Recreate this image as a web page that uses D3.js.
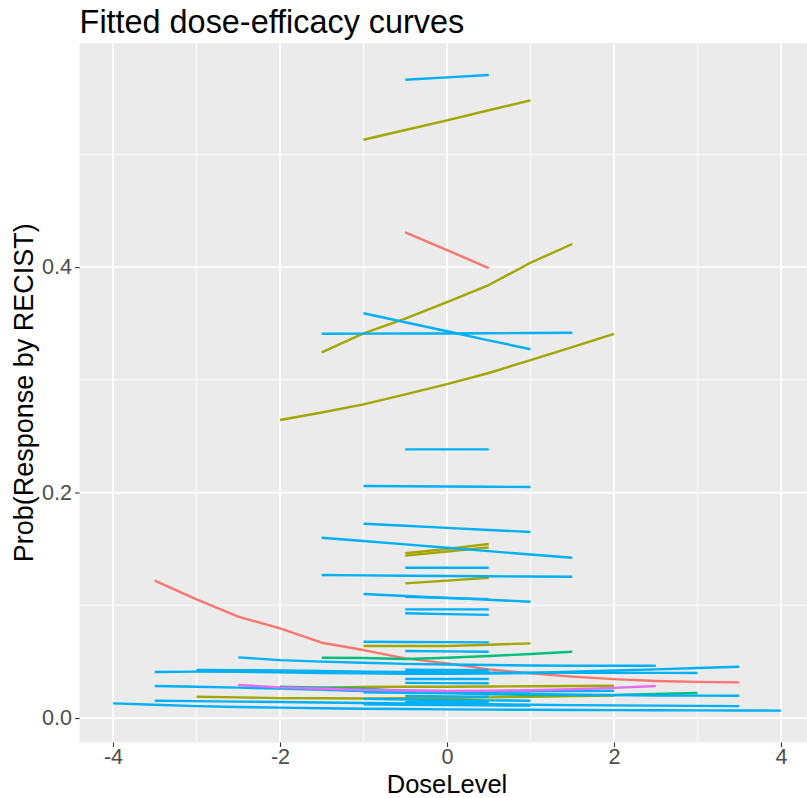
<!DOCTYPE html>
<html>
<head>
<meta charset="utf-8">
<script src="https://cdn.jsdelivr.net/npm/d3@7"></script>
<style>
  body { margin: 0; background: #ffffff; }
  svg { display: block; font-family: "Liberation Sans", Arial, sans-serif; }
</style>
</head>
<body>
<svg id="chart" width="807" height="798"></svg>
<script>
// ---- labels and axes ----
const chartTitle = "Fitted dose-efficacy curves";
const xTitle = "DoseLevel";
const yTitle = "Prob(Response by RECIST)";
const xMajor = [-4, -2, 0, 2, 4];
const xMinor = [-3, -1, 1, 3];
const yMajor = [0.0, 0.2, 0.4];
const yMinor = [0.1, 0.3, 0.5];
const xDomain = [-4.4, 4.4];
const yDomain = [-0.0216, 0.5985];

// ggplot hue palette, one colour per arm
const armColors = ["#F8766D", "#A3A500", "#00BF7D", "#00B0F6", "#E76BF3"];
const doseStep = 0.5;

// each curve: [first dose level, fitted probabilities every half dose level]
const arm1 = [
  [-0.5, [0.4308, 0.4150, 0.3991]],
  [-3.5, [0.1218, 0.1053, 0.0899, 0.0795, 0.0668, 0.0603, 0.0529, 0.0485, 0.0432, 0.0396, 0.0367, 0.0345, 0.0329, 0.0321, 0.0316]]
];
const arm2 = [
  [-1.0, [0.5129, 0.5215, 0.5300, 0.5390, 0.5478]],
  [-1.5, [0.3243, 0.3412, 0.3543, 0.3688, 0.3840, 0.4038, 0.4204]],
  [-2.0, [0.2643, 0.2710, 0.2782, 0.2870, 0.2962, 0.3060, 0.3175, 0.3290, 0.3408]],
  [-0.5, [0.1461, 0.1500, 0.1543]],
  [-0.5, [0.1440, 0.1477, 0.1514]],
  [-0.5, [0.1194, 0.1219, 0.1244]],
  [-1.0, [0.0639, 0.0639, 0.0639, 0.0650, 0.0662]],
  [-2.0, [0.0269, 0.0270, 0.0275, 0.0278, 0.0278, 0.0280, 0.0282, 0.0284, 0.0286]],
  [-3.0, [0.0189, 0.0183, 0.0177, 0.0175, 0.0174, 0.0175, 0.0178, 0.0183, 0.0189, 0.0194, 0.0200]]
];
const arm3 = [
  [-1.5, [0.0535, 0.0532, 0.0523, 0.0535, 0.0550, 0.0568, 0.0588]],
  [-0.5, [0.0405, 0.0405, 0.0405]],
  [-2.0, [0.0278, 0.0270, 0.0260, 0.0240, 0.0225, 0.0210, 0.0205, 0.0205, 0.0205, 0.0213, 0.0222]]
];
const arm4 = [
  [-0.5, [0.5661, 0.5682, 0.5703]],
  [-1.0, [0.3590, 0.3510, 0.3430, 0.3350, 0.3271]],
  [-1.5, [0.3408, 0.3409, 0.3410, 0.3411, 0.3413, 0.3415, 0.3417]],
  [-0.5, [0.2383, 0.2383, 0.2383]],
  [-1.0, [0.2058, 0.2056, 0.2053, 0.2051, 0.2049]],
  [-1.0, [0.1723, 0.1705, 0.1687, 0.1668, 0.1650]],
  [-1.5, [0.1599, 0.1570, 0.1540, 0.1510, 0.1480, 0.1451, 0.1422]],
  [-0.5, [0.1333, 0.1333, 0.1333]],
  [-1.5, [0.1268, 0.1265, 0.1262, 0.1260, 0.1258, 0.1255, 0.1253]],
  [-1.0, [0.1100, 0.1083, 0.1066, 0.1049, 0.1032]],
  [-0.5, [0.1075, 0.1065, 0.1055]],
  [-0.5, [0.0964, 0.0964, 0.0964]],
  [-0.5, [0.0929, 0.0922, 0.0915]],
  [-1.0, [0.0677, 0.0675, 0.0673, 0.0671]],
  [-0.5, [0.0594, 0.0591, 0.0588]],
  [-2.5, [0.0538, 0.0514, 0.0500, 0.0490, 0.0480, 0.0475, 0.0470, 0.0466, 0.0464, 0.0464, 0.0464]],
  [-3.5, [0.0408, 0.0412, 0.0410, 0.0405, 0.0400, 0.0396, 0.0393, 0.0392, 0.0395, 0.0400, 0.0410, 0.0422, 0.0432, 0.0444, 0.0455]],
  [-3.0, [0.0426, 0.0425, 0.0422, 0.0418, 0.0412, 0.0408, 0.0405, 0.0403, 0.0402, 0.0402, 0.0402, 0.0401, 0.0400]],
  [-0.5, [0.0428, 0.0426, 0.0424]],
  [-0.5, [0.0346, 0.0346, 0.0346]],
  [-0.5, [0.0312, 0.0310, 0.0308]],
  [-3.5, [0.0284, 0.0278, 0.0270, 0.0262, 0.0250, 0.0240, 0.0232, 0.0225, 0.0218, 0.0212, 0.0207, 0.0203, 0.0200, 0.0199, 0.0198]],
  [-2.0, [0.0272, 0.0262, 0.0252, 0.0243, 0.0237, 0.0236, 0.0237, 0.0239, 0.0242]],
  [-1.0, [0.0228, 0.0224, 0.0220, 0.0218, 0.0216]],
  [-0.5, [0.0195, 0.0192, 0.0190]],
  [-1.0, [0.0170, 0.0165, 0.0160, 0.0157, 0.0154]],
  [-0.5, [0.0140, 0.0140, 0.0140]],
  [-1.0, [0.0122, 0.0118, 0.0115, 0.0112, 0.0110]],
  [-3.5, [0.0153, 0.0150, 0.0146, 0.0142, 0.0138, 0.0134, 0.0130, 0.0126, 0.0122, 0.0118, 0.0115, 0.0112, 0.0110, 0.0108, 0.0106]],
  [-4.0, [0.0130, 0.0118, 0.0106, 0.0098, 0.0092, 0.0087, 0.0083, 0.0080, 0.0077, 0.0075, 0.0073, 0.0071, 0.0070, 0.0069, 0.0068, 0.0067, 0.0066]]
];
const arm5 = [
  [-2.5, [0.0293, 0.0272, 0.0260, 0.0250, 0.0244, 0.0240, 0.0242, 0.0246, 0.0255, 0.0268, 0.0284]]
];
const arms = [arm1, arm2, arm3, arm4, arm5];

// ---- layout ----
const svg = d3.select("#chart");
const panel = { left: 79.6, right: 814.4, top: 43.2, bottom: 742.4 };

const x = d3.scaleLinear().domain(xDomain).range([panel.left, panel.right]);
const y = d3.scaleLinear().domain(yDomain).range([panel.bottom, panel.top]);

svg.append("rect")
  .attr("width", 807).attr("height", 798).attr("fill", "#ffffff");

svg.append("defs").append("clipPath").attr("id", "panel-clip")
  .append("rect")
  .attr("x", panel.left).attr("y", panel.top)
  .attr("width", panel.right - panel.left).attr("height", panel.bottom - panel.top);

svg.append("rect")
  .attr("x", panel.left).attr("y", panel.top)
  .attr("width", panel.right - panel.left).attr("height", panel.bottom - panel.top)
  .attr("fill", "#EBEBEB");

// grid lines
const grid = svg.append("g").attr("clip-path", "url(#panel-clip)");
grid.selectAll(".xminor").data(xMinor).join("line")
  .attr("x1", d => x(d)).attr("x2", d => x(d))
  .attr("y1", panel.top).attr("y2", panel.bottom)
  .attr("stroke", "#ffffff").attr("stroke-width", 0.9);
grid.selectAll(".yminor").data(yMinor).join("line")
  .attr("y1", d => y(d)).attr("y2", d => y(d))
  .attr("x1", panel.left).attr("x2", panel.right)
  .attr("stroke", "#ffffff").attr("stroke-width", 0.9);
grid.selectAll(".xmajor").data(xMajor).join("line")
  .attr("x1", d => x(d)).attr("x2", d => x(d))
  .attr("y1", panel.top).attr("y2", panel.bottom)
  .attr("stroke", "#ffffff").attr("stroke-width", 1.7);
grid.selectAll(".ymajor").data(yMajor).join("line")
  .attr("y1", d => y(d)).attr("y2", d => y(d))
  .attr("x1", panel.left).attr("x2", panel.right)
  .attr("stroke", "#ffffff").attr("stroke-width", 1.7);

// fitted curves
const line = d3.line().x(d => x(d[0])).y(d => y(d[1]));
const curveLayer = svg.append("g").attr("clip-path", "url(#panel-clip)")
  .attr("fill", "none").attr("stroke-width", 2.4)
  .attr("stroke-linejoin", "round");

arms.forEach((arm, i) => {
  arm.forEach(([start, probs]) => {
    const pts = probs.map((p, k) => [start + k * doseStep, p]);
    curveLayer.append("path")
      .datum(pts)
      .attr("d", line)
      .attr("stroke", armColors[i]);
  });
});

// axes
const tickFont = 21.6;
const xAxis = svg.append("g")
  .attr("transform", `translate(0,${panel.bottom})`)
  .call(d3.axisBottom(x).tickValues(xMajor).tickSize(4.5).tickPadding(2.2)
    .tickFormat(d => String(d)));
const yAxis = svg.append("g")
  .attr("transform", `translate(${panel.left},0)`)
  .call(d3.axisLeft(y).tickValues(yMajor).tickSize(4.5).tickPadding(3)
    .tickFormat(d3.format(".1f")));

[xAxis, yAxis].forEach(g => {
  g.select(".domain").remove();
  g.selectAll(".tick line").attr("stroke", "#333333").attr("stroke-width", 1.1);
  g.selectAll(".tick text")
    .attr("fill", "#4D4D4D")
    .style("font-size", tickFont + "px")
    .style("font-family", '"Liberation Sans", Arial, sans-serif');
});

// titles
svg.append("text")
  .attr("x", panel.left).attr("y", 33)
  .attr("fill", "#000000")
  .style("font-size", "32.4px")
  .text(chartTitle);

svg.append("text")
  .attr("x", (panel.left + panel.right) / 2).attr("y", 792.5)
  .attr("text-anchor", "middle")
  .attr("fill", "#000000")
  .style("font-size", "25.5px")
  .text(xTitle);

svg.append("text")
  .attr("transform", `translate(33,${(panel.top + panel.bottom) / 2}) rotate(-90)`)
  .attr("text-anchor", "middle")
  .attr("fill", "#000000")
  .style("font-size", "27px")
  .text(yTitle);
</script>
</body>
</html>
